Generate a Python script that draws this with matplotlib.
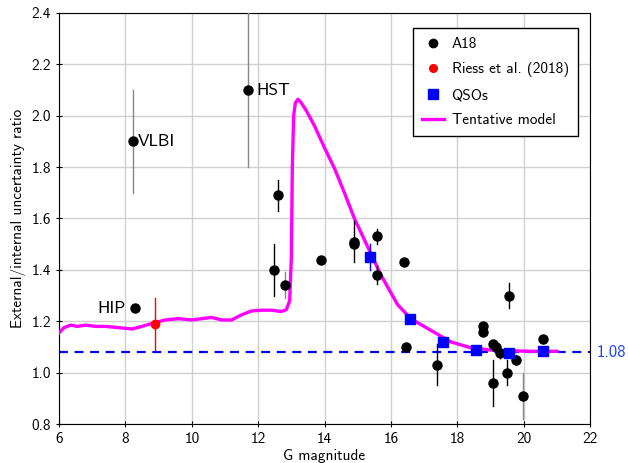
import matplotlib

matplotlib.use("Agg")
import matplotlib.pyplot as plt
from matplotlib.lines import Line2D

FONT = ["cmss10", "DejaVu Sans"]
plt.rcParams["font.family"] = FONT
plt.rcParams["axes.unicode_minus"] = False

MAGENTA = "#ff00ff"
BLUE = "#0000ee"
GRID = "#d0d0d0"

# A18 stars: magnitude, ratio, error
a18_g = [8.23, 11.69, 8.29, 12.60, 12.49, 12.81, 13.89, 14.90, 14.90, 15.58, 15.58,
         16.38, 16.47, 17.40, 18.77, 18.77, 19.09, 19.17, 19.29, 19.09, 19.49,
         19.77, 19.97, 19.57, 20.57]
a18_r = [1.90, 2.10, 1.25, 1.69, 1.40, 1.34, 1.44, 1.51, 1.50, 1.53, 1.38,
         1.43, 1.10, 1.03, 1.18, 1.16, 1.11, 1.10, 1.075, 0.96, 1.00,
         1.05, 0.91, 1.30, 1.13]
a18_e = [0.20, 0.30, 0.0, 0.06, 0.10, 0.05, 0.0, 0.08, 0.0, 0.03, 0.035,
         0.0, 0.0, 0.08, 0.0, 0.0, 0.0, 0.0, 0.02, 0.09, 0.05,
         0.02, 0.09, 0.05, 0.0]
a18_grey = [0, 1, 5, 18, 22]
labels = {0: "VLBI", 1: "HST", 2: "HIP"}

riess_g = [8.89]
riess_r = [1.19]
riess_e = [0.10]

qso_g = [15.37, 16.58, 17.58, 18.56, 19.57, 20.57]
qso_r = [1.45, 1.21, 1.12, 1.09, 1.075, 1.085]
qso_e = [0.05, 0.01, 0.01, 0.01, 0.01, 0.01]

model_g = [6.00, 6.15, 6.35, 6.55, 6.8, 7.1, 7.4, 7.8, 8.2, 8.5, 8.9, 9.2, 9.6,
           10.0, 10.3, 10.6, 10.9, 11.2, 11.5, 11.8, 12.1, 12.4, 12.7, 12.85,
           12.95, 13.0, 13.03, 13.07, 13.12, 13.2, 13.3, 13.45, 13.7, 14.0,
           14.3, 14.6, 14.9, 15.3, 15.7, 16.2, 16.6, 17.2, 17.8, 18.4, 19.0,
           19.6, 20.3, 21.0]
model_r = [1.155, 1.175, 1.185, 1.18, 1.185, 1.18, 1.18, 1.175, 1.17, 1.18, 1.195,
           1.205, 1.21, 1.205, 1.21, 1.215, 1.205, 1.205, 1.225, 1.24, 1.243,
           1.243, 1.238, 1.245, 1.28, 1.45, 1.8, 2.0, 2.05, 2.064, 2.05, 2.02,
           1.96, 1.875, 1.795, 1.70, 1.60, 1.49, 1.38, 1.265, 1.21, 1.165,
           1.12, 1.097, 1.088, 1.085, 1.083, 1.083]

level = 1.08

fig = plt.figure(figsize=(6.28, 4.63), dpi=100)
ax = fig.add_axes([0.094, 0.0842, 0.8455, 0.8878])

ax.axhline(level, color=BLUE, lw=1.6, ls=(0, (4, 3)), zorder=2)
ax.plot(model_g, model_r, color=MAGENTA, lw=2.4, zorder=3)

for i, (g, r, e) in enumerate(zip(a18_g, a18_r, a18_e)):
    if e > 0:
        col = "#888888" if i in a18_grey else "black"
        ax.plot([g, g], [r - e, r + e], color=col, lw=1.0, zorder=4)
ax.plot(a18_g, a18_r, "o", color="black", ms=6.5, zorder=5)

for g, r, e in zip(riess_g, riess_r, riess_e):
    ax.plot([g, g], [r - e, r + e], color="red", lw=1.0, zorder=4)
ax.plot(riess_g, riess_r, "o", color="red", ms=6, zorder=5)

for g, r, e in zip(qso_g, qso_r, qso_e):
    ax.plot([g, g], [r - e, r + e], color=BLUE, lw=1.0, zorder=4)
ax.plot(qso_g, qso_r, "s", color="#0000ff", ms=7.5, zorder=5)

for i, name in labels.items():
    if name == "HIP":
        ax.annotate(name, (a18_g[i], a18_r[i]), xytext=(-7, 0), textcoords="offset points",
                    ha="right", va="center", fontsize=12.5)
    else:
        off = 6 if name == "HST" else 3.5
        ax.annotate(name, (a18_g[i], a18_r[i]), xytext=(off, 0), textcoords="offset points",
                    ha="left", va="center", fontsize=12.5)

ax.text(1.012, level, f"{level:.2f}", transform=ax.get_yaxis_transform(),
        color="#2040ff", fontsize=12, va="center", ha="left")

ax.set_xlim(6, 22)
ax.set_ylim(0.8, 2.4)
ax.set_xticks(range(6, 23, 2))
ax.set_yticks([0.8, 1.0, 1.2, 1.4, 1.6, 1.8, 2.0, 2.2, 2.4])
ax.set_yticklabels([f"{v:.1f}" for v in ax.get_yticks()])
ax.grid(color=GRID, lw=1.0)
ax.set_axisbelow(True)
ax.tick_params(direction="inout", length=5, labelsize=11)
ax.set_xlabel("G magnitude", fontsize=11, labelpad=2)
ax.set_ylabel("External/internal uncertainty ratio", fontsize=11)

handles = [
    Line2D([], [], marker="o", color="black", ls="none", ms=6),
    Line2D([], [], marker="o", color="red", ls="none", ms=5.5),
    Line2D([], [], marker="s", color="#0000ff", ls="none", ms=7),
    Line2D([], [], color=MAGENTA, lw=2.4),
]
leg = ax.legend(handles, ["A18", "Riess et al. (2018)", "QSOs", "Tentative model"],
                loc="upper right", bbox_to_anchor=(0.977, 0.9635), borderaxespad=0,
                fancybox=False, edgecolor="black", fontsize=11, handlelength=1.4,
                handletextpad=0.5, framealpha=1, labelspacing=0.72, borderpad=0.6)
leg.get_frame().set_linewidth(1.0)

fig.savefig("out.png", dpi=100, facecolor="white")
